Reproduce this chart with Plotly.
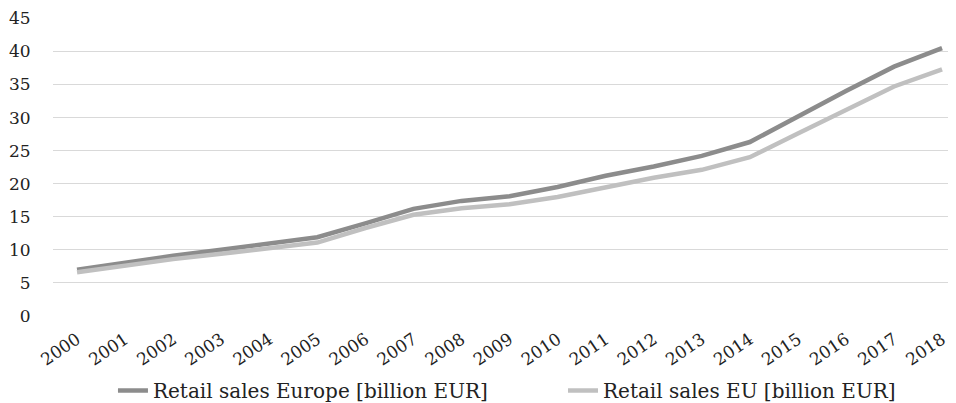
import plotly.graph_objects as go

years = [str(y) for y in range(2000, 2019)]
europe = [7.0, 8.1, 9.1, 10.0, 10.9, 11.9, 14.0, 16.2, 17.4, 18.1, 19.5, 21.2, 22.6, 24.2, 26.3, 30.2, 34.0, 37.7, 40.5]
eu = [6.6, 7.6, 8.6, 9.4, 10.2, 11.1, 13.3, 15.3, 16.3, 16.9, 18.0, 19.5, 20.9, 22.1, 24.0, 27.6, 31.1, 34.7, 37.3]
name_europe = "Retail sales Europe [billion EUR]"
name_eu = "Retail sales EU [billion EUR]"
y_ticks = list(range(0, 50, 5))

font_family = "DejaVu Serif"
text_color = "#222222"

fig = go.Figure()
fig.add_trace(go.Scatter(x=years, y=europe, mode="lines", name=name_europe,
                         line=dict(color="#8c8c8c", width=4.5), legend="legend"))
fig.add_trace(go.Scatter(x=years, y=eu, mode="lines", name=name_eu,
                         line=dict(color="#c0c0c0", width=4.5), legend="legend2"))

legend_common = dict(orientation="h", y=-0.25, yanchor="middle",
                     font=dict(size=20, family=font_family, color=text_color),
                     bgcolor="rgba(0,0,0,0)", borderwidth=0, xanchor="left")

fig.update_layout(
    width=948, height=403,
    margin=dict(l=45, r=0, t=10, b=95),
    paper_bgcolor="white", plot_bgcolor="white",
    font=dict(family=font_family, size=16, color=text_color),
    showlegend=True,
    legend=dict(x=0.0664, **legend_common),
    legend2=dict(x=0.5648, **legend_common),
)
fig.update_xaxes(type="category", range=[-0.5, 18.29], showgrid=False, showline=False,
                 zeroline=False, tickangle=-34, ticks="outside", ticklen=6, tickcolor="white",
                 automargin=False, tickfont=dict(size=17, family=font_family, color=text_color))
fig.update_yaxes(range=[0, 45.05], tickvals=y_ticks, showgrid=True, gridcolor="#d9d9d9", gridwidth=1,
                 zeroline=False, showline=False, ticks="outside", ticklen=18, tickcolor="white",
                 automargin=False, tickfont=dict(size=17, family=font_family, color=text_color))

fig.write_html("out.html")
